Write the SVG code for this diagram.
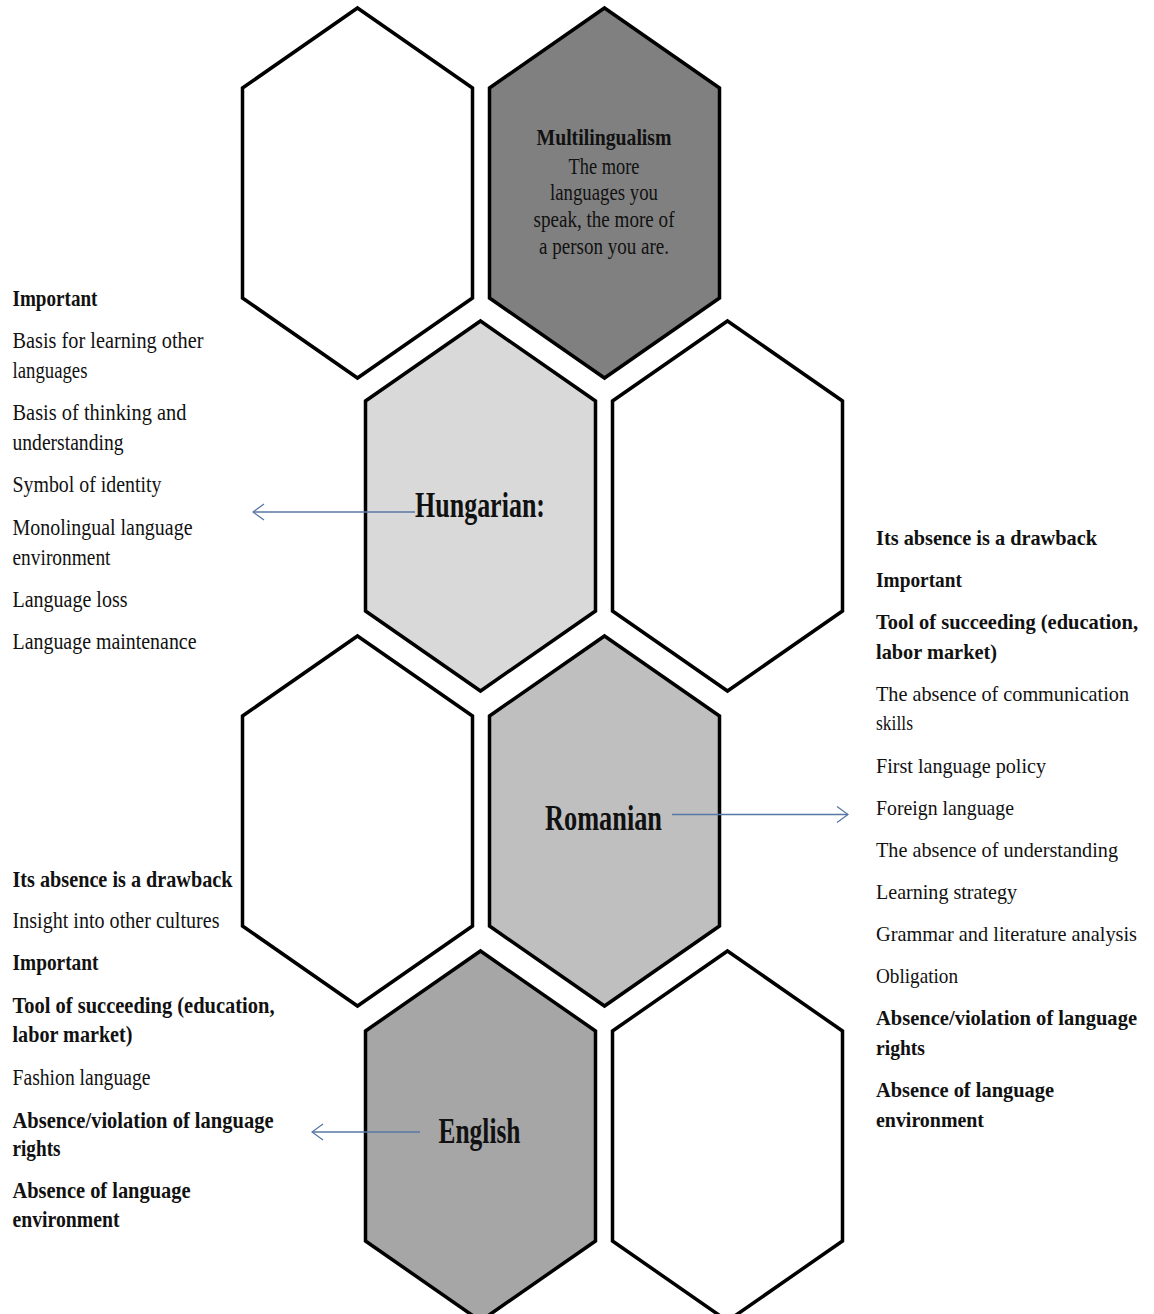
<svg xmlns="http://www.w3.org/2000/svg" width="1154" height="1314" viewBox="0 0 1154 1314">
<style>
.hex{stroke:#000;stroke-width:3.5;stroke-linejoin:miter}
.w{fill:#fff}
.t{font-family:"Liberation Serif","Times New Roman",serif;font-size:23px;fill:#111}
.r{font-size:21px}
.b{font-weight:bold}
.big{font-family:"Liberation Serif","Times New Roman",serif;font-size:36px;font-weight:bold;fill:#111}
.mid{text-anchor:middle}
.conn{stroke:#5877a5;stroke-width:1.3;fill:none}
</style>
<defs>
<marker id="arr" markerUnits="userSpaceOnUse" markerWidth="13" markerHeight="19" viewBox="0 0 13 19" refX="12" refY="9.5" orient="auto">
<path d="M1,1.5 L12,9.5 L1,17.5" fill="none" stroke="#5877a5" stroke-width="1.3"/>
</marker>
</defs>
<rect width="1154" height="1314" fill="#fff"/>

<g id="hex-r1-left"><polygon class="hex w" points="357.5,8 472.5,88 472.5,298 357.5,378 242.5,298 242.5,88"/></g>
<g id="hex-multilingualism">
<polygon class="hex" fill="#808080" points="604.5,8 719.5,88 719.5,298 604.5,378 489.5,298 489.5,88"/>
<text class="t b mid" x="604" y="145" textLength="135" lengthAdjust="spacingAndGlyphs">Multilingualism</text>
<text class="t mid" x="604" y="174" textLength="71" lengthAdjust="spacingAndGlyphs">The more</text>
<text class="t mid" x="604" y="200" textLength="108" lengthAdjust="spacingAndGlyphs">languages you</text>
<text class="t mid" x="604" y="227" textLength="141" lengthAdjust="spacingAndGlyphs">speak, the more of</text>
<text class="t mid" x="604" y="254" textLength="130" lengthAdjust="spacingAndGlyphs">a person you are.</text>
</g>
<g id="hex-hungarian">
<polygon class="hex" fill="#d9d9d9" points="480.5,321 595.5,401 595.5,611 480.5,691 365.5,611 365.5,401"/>
</g>
<g id="hex-r2-right"><polygon class="hex w" points="727.5,321 842.5,401 842.5,611 727.5,691 612.5,611 612.5,401"/></g>
<g id="hex-r3-left"><polygon class="hex w" points="357.5,636 472.5,716 472.5,926 357.5,1006 242.5,926 242.5,716"/></g>
<g id="hex-romanian">
<polygon class="hex" fill="#bfbfbf" points="604.5,636 719.5,716 719.5,926 604.5,1006 489.5,926 489.5,716"/>
</g>
<g id="hex-english">
<polygon class="hex" fill="#a6a6a6" points="480.5,951 595.5,1031 595.5,1241 480.5,1321 365.5,1241 365.5,1031"/>
</g>
<g id="hex-r4-right"><polygon class="hex w" points="727.5,951 842.5,1031 842.5,1241 727.5,1321 612.5,1241 612.5,1031"/></g>

<g id="connectors">
<line class="conn" x1="415" y1="512" x2="253" y2="512" marker-end="url(#arr)"/>
<line class="conn" x1="672" y1="814.5" x2="848" y2="814.5" marker-end="url(#arr)"/>
<line class="conn" x1="420" y1="1132" x2="312" y2="1132" marker-end="url(#arr)"/>
</g>

<g id="labels">
<text class="big" x="415" y="517" textLength="130" lengthAdjust="spacingAndGlyphs">Hungarian:</text>
<text class="big" x="545" y="830" textLength="117" lengthAdjust="spacingAndGlyphs">Romanian</text>
<text class="big" x="438.5" y="1143" textLength="82" lengthAdjust="spacingAndGlyphs">English</text>
</g>

<g id="hungarian-list">
<text class="t b" x="12.5" y="306" textLength="85" lengthAdjust="spacingAndGlyphs">Important</text>
<text class="t" x="12.5" y="348" textLength="191" lengthAdjust="spacingAndGlyphs">Basis for learning other</text>
<text class="t" x="12.5" y="378" textLength="75" lengthAdjust="spacingAndGlyphs">languages</text>
<text class="t" x="12.5" y="420" textLength="174" lengthAdjust="spacingAndGlyphs">Basis of thinking and</text>
<text class="t" x="12.5" y="450" textLength="111" lengthAdjust="spacingAndGlyphs">understanding</text>
<text class="t" x="12.5" y="492" textLength="149" lengthAdjust="spacingAndGlyphs">Symbol of identity</text>
<text class="t" x="12.5" y="535" textLength="180" lengthAdjust="spacingAndGlyphs">Monolingual language</text>
<text class="t" x="12.5" y="565" textLength="98" lengthAdjust="spacingAndGlyphs">environment</text>
<text class="t" x="12.5" y="607" textLength="115" lengthAdjust="spacingAndGlyphs">Language loss</text>
<text class="t" x="12.5" y="649" textLength="184" lengthAdjust="spacingAndGlyphs">Language maintenance</text>
</g>

<g id="romanian-list">
<text class="t r b" x="876" y="545" textLength="221" lengthAdjust="spacingAndGlyphs">Its absence is a drawback</text>
<text class="t r b" x="876" y="587" textLength="86" lengthAdjust="spacingAndGlyphs">Important</text>
<text class="t r b" x="876" y="629" textLength="262" lengthAdjust="spacingAndGlyphs">Tool of succeeding (education,</text>
<text class="t r b" x="876" y="659" textLength="121" lengthAdjust="spacingAndGlyphs">labor market)</text>
<text class="t r" x="876" y="701" textLength="253" lengthAdjust="spacingAndGlyphs">The absence of communication</text>
<text class="t r" x="876" y="730" textLength="37" lengthAdjust="spacingAndGlyphs">skills</text>
<text class="t r" x="876" y="773" textLength="170" lengthAdjust="spacingAndGlyphs">First language policy</text>
<text class="t r" x="876" y="815" textLength="138" lengthAdjust="spacingAndGlyphs">Foreign language</text>
<text class="t r" x="876" y="857" textLength="242" lengthAdjust="spacingAndGlyphs">The absence of understanding</text>
<text class="t r" x="876" y="899" textLength="141" lengthAdjust="spacingAndGlyphs">Learning strategy</text>
<text class="t r" x="876" y="941" textLength="261" lengthAdjust="spacingAndGlyphs">Grammar and literature analysis</text>
<text class="t r" x="876" y="983" textLength="82" lengthAdjust="spacingAndGlyphs">Obligation</text>
<text class="t r b" x="876" y="1025" textLength="261" lengthAdjust="spacingAndGlyphs">Absence/violation of language</text>
<text class="t r b" x="876" y="1055" textLength="49" lengthAdjust="spacingAndGlyphs">rights</text>
<text class="t r b" x="876" y="1097" textLength="178" lengthAdjust="spacingAndGlyphs">Absence of language</text>
<text class="t r b" x="876" y="1127" textLength="108" lengthAdjust="spacingAndGlyphs">environment</text>
</g>

<g id="english-list">
<text class="t b" x="12.5" y="887" textLength="220" lengthAdjust="spacingAndGlyphs">Its absence is a drawback</text>
<text class="t" x="12.5" y="928" textLength="207" lengthAdjust="spacingAndGlyphs">Insight into other cultures</text>
<text class="t b" x="12.5" y="970" textLength="86" lengthAdjust="spacingAndGlyphs">Important</text>
<text class="t b" x="12.5" y="1013" textLength="262" lengthAdjust="spacingAndGlyphs">Tool of succeeding (education,</text>
<text class="t b" x="12.5" y="1042" textLength="120" lengthAdjust="spacingAndGlyphs">labor market)</text>
<text class="t" x="12.5" y="1085" textLength="138" lengthAdjust="spacingAndGlyphs">Fashion language</text>
<text class="t b" x="12.5" y="1128" textLength="261" lengthAdjust="spacingAndGlyphs">Absence/violation of language</text>
<text class="t b" x="12.5" y="1156" textLength="48" lengthAdjust="spacingAndGlyphs">rights</text>
<text class="t b" x="12.5" y="1198" textLength="178" lengthAdjust="spacingAndGlyphs">Absence of language</text>
<text class="t b" x="12.5" y="1227" textLength="107" lengthAdjust="spacingAndGlyphs">environment</text>
</g>
</svg>
